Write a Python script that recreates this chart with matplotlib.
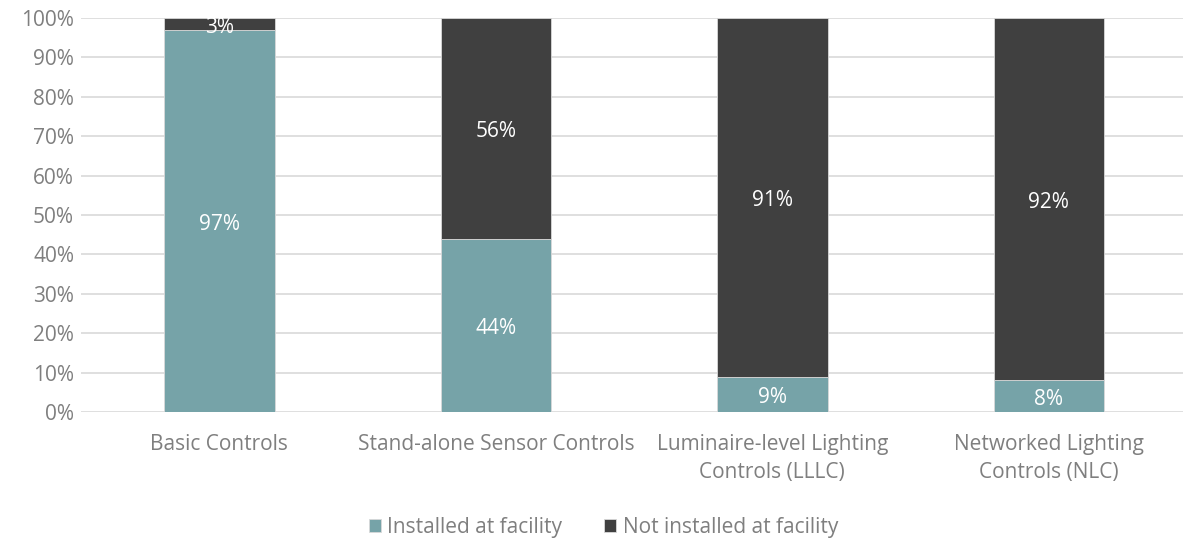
import numpy as np
import matplotlib.pyplot as plt

# Категории и доли (в процентах)
categories = ["Basic Controls", "Stand-alone Sensor Controls",
              "Luminaire-level Lighting\nControls (LLLC)",
              "Networked Lighting\nControls (NLC)"]
installed = [97, 44, 9, 8]
not_installed = [3, 56, 91, 92]
series_names = ["Installed at facility", "Not installed at facility"]

plt.rcParams['font.family'] = ['Open Sans', 'DejaVu Sans']

teal = "#76a3a8"
dark = "#404040"
grey = "#7f7f7f"
fs = 15

fig = plt.figure(figsize=(11.83, 5.40), dpi=100)
ax = fig.add_axes([0.0685, 0.237, 0.935, 0.73])

x = np.arange(len(categories))
w = 0.4
b1 = ax.bar(x, installed, w, color=teal, edgecolor="#d9d9d9", linewidth=0.6,
            label=series_names[0], zorder=3)
b2 = ax.bar(x, not_installed, w, bottom=installed, color=dark, edgecolor="#d9d9d9",
            linewidth=0.6, label=series_names[1], zorder=3)

# подписи внутри сегментов (чуть ниже центра, как в Excel)
dy = -0.9
for i in range(len(x)):
    ax.text(x[i], installed[i] / 2 + dy, f"{installed[i]}%", ha="center", va="center",
            color="white", fontsize=fs, zorder=4)
    ax.text(x[i], installed[i] + not_installed[i] / 2 + dy, f"{not_installed[i]}%",
            ha="center", va="center", color="white", fontsize=fs, zorder=4)

ax.set_xlim(-0.5, 3.5)
ax.set_ylim(0, 100)
ax.set_yticks(np.arange(0, 101, 10))
ax.set_yticklabels([f"{v}%" for v in range(0, 101, 10)])
ax.set_xticks(x)
ax.set_xticklabels(categories, linespacing=1.45)
ax.tick_params(axis="both", length=0, colors=grey, labelsize=fs)
ax.tick_params(axis="x", pad=16)
ax.tick_params(axis="y", pad=5)
ax.grid(axis="y", color="#d9d9d9", linewidth=1.2, zorder=0)
for s in ax.spines.values():
    s.set_visible(False)

leg = fig.legend(handles=[b1, b2], loc="center", bbox_to_anchor=(0.51, 0.024),
                 ncol=2, frameon=False, fontsize=fs, handlelength=0.6,
                 handleheight=0.6, handletextpad=0.3, columnspacing=2.0)
for t in leg.get_texts():
    t.set_color(grey)

plt.savefig("out.png", dpi=100)
